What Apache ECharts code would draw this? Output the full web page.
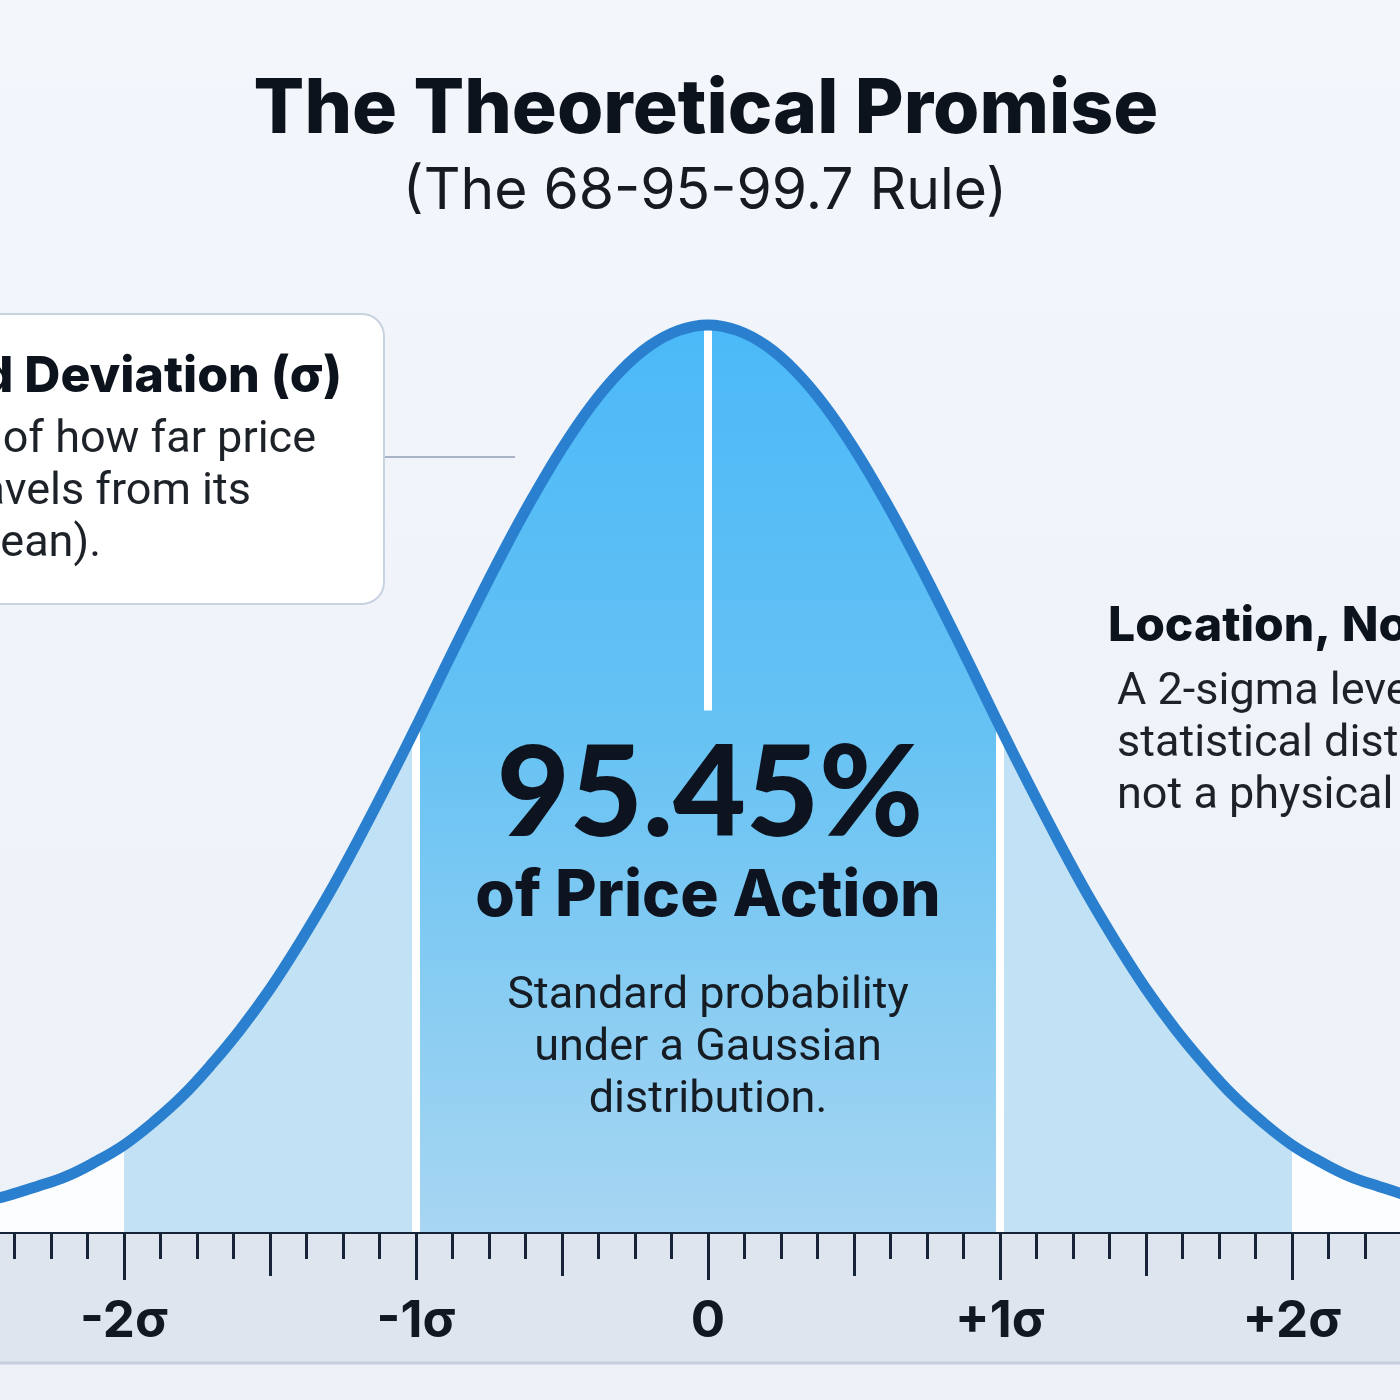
<!DOCTYPE html>
<html>
<head>
<meta charset="utf-8">
<title>The Theoretical Promise</title>
<script src="https://cdn.jsdelivr.net/npm/echarts@6/dist/echarts.min.js"></script>
<style>
  html, body { margin: 0; padding: 0; background: #eef3fa; }
  #chart { width: 1400px; height: 1400px; }
</style>
</head>
<body>
<div id="chart"></div>
<script>
// positions along the axis, in sigma units
var xs = [-2.5, -2.4, -2.3, -2.2, -2.1, -2.0, -1.9, -1.8, -1.7, -1.6, -1.5, -1.4, -1.3, -1.2, -1.1, -1.0,
  -0.9, -0.8, -0.7, -0.6, -0.5, -0.4, -0.3, -0.2, -0.1, 0.0, 0.1, 0.2, 0.3, 0.4, 0.5, 0.6, 0.7, 0.8, 0.9,
  1.0, 1.1, 1.2, 1.3, 1.4, 1.5, 1.6, 1.7, 1.8, 1.9, 2.0, 2.1, 2.2, 2.3, 2.4, 2.5];
// curve height (peak = 1)
var ys = [0.032, 0.040, 0.050, 0.061, 0.077, 0.096, 0.121, 0.150, 0.185, 0.224, 0.268, 0.318, 0.372, 0.431, 0.493, 0.557,
  0.623, 0.688, 0.751, 0.810, 0.864, 0.911, 0.949, 0.977, 0.994, 1.000, 0.994, 0.977, 0.949, 0.911, 0.864, 0.810, 0.751, 0.688, 0.623,
  0.557, 0.493, 0.431, 0.372, 0.318, 0.268, 0.224, 0.185, 0.150, 0.121, 0.096, 0.077, 0.061, 0.050, 0.040, 0.032];

var tickValues = [-2, -1, 0, 1, 2];
var tickLabels = ['-2σ', '-1σ', '0', '+1σ', '+2σ'];
var halfTicks = [-1.5, -0.5, 0.5, 1.5];

var axisMin = -2.425, axisMax = 2.37;  // visible part of the axis
var outerBand = [-2, 2];   // 95.45% region
var innerBand = [-1, 1];   // 68% region
var centerLineFrom = 0.575; // white centre marker starts here

// small ticks every 1/8 sigma
var eighthTicks = [];
for (var k = -19; k <= 19; k++) eighthTicks.push(k / 8);

function pairs(lo, hi) {
    var out = [];
    for (var i = 0; i < xs.length; i++) {
        if (xs[i] >= lo - 1e-9 && xs[i] <= hi + 1e-9) out.push([xs[i], ys[i]]);
    }
    return out;
}
function heightAt(x) {
    return ys[xs.indexOf(x)];
}

var fullCurve = pairs(-9, 9);
var tickColor = '#172336';

function tickAxis(values, len, showLine) {
    return {
        type: 'value', position: 'bottom',
        min: axisMin, max: axisMax,
        axisLine: { show: showLine, lineStyle: { color: tickColor, width: 4 } },
        axisTick: { show: true, customValues: values, length: len, lineStyle: { color: tickColor, width: 3 } },
        axisLabel: { show: false },
        splitLine: { show: false }
    };
}

var chart = echarts.init(document.getElementById('chart'));

var labelAxis = tickAxis(tickValues, 48, true);
labelAxis.axisLabel = {
    show: true,
    customValues: tickValues,
    margin: 64,
    fontFamily: 'Inter', fontWeight: 700, fontSize: 51, color: '#121821',
    formatter: function (v) {
        var i = tickValues.indexOf(v);
        return i >= 0 ? tickLabels[i] : '';
    }
};

var bodyFont = '400 45px Roboto';

var option = {
    backgroundColor: {
        type: 'linear', x: 0, y: 0, x2: 0, y2: 1,
        colorStops: [{ offset: 0, color: '#f3f6fb' }, { offset: 1, color: '#ecf1f8' }]
    },
    animation: false,
    grid: { left: 0, right: 0, top: 325, bottom: 168 },
    xAxis: [labelAxis, tickAxis(halfTicks, 44, false), tickAxis(eighthTicks, 27, false)],
    yAxis: { type: 'value', min: 0, max: 1, show: false },
    graphic: [
        // band under the axis
        { type: 'rect', z: -1, shape: { x: 0, y: 1234, width: 1400, height: 128 }, style: { fill: '#dee5ef' } },
        { type: 'line', z: -1, shape: { x1: 0, y1: 1363, x2: 1400, y2: 1363 }, style: { stroke: '#c4cedc', lineWidth: 3 } },
        // titles
        { type: 'text', x: 706, y: 110, style: { text: 'The Theoretical Promise', fill: '#0d131d',
            font: '800 75px Inter', textAlign: 'center', textVerticalAlign: 'middle' } },
        { type: 'text', x: 705, y: 192, style: { text: '(The 68-95-99.7 Rule)', fill: '#161b22',
            font: '400 57px Inter', textAlign: 'center', textVerticalAlign: 'middle' } },
        // centre annotation
        { type: 'text', x: 710, y: 795, z: 20, style: { text: '95.45%', fill: '#0d1420',
            font: '900 126px Lato', textAlign: 'center', textVerticalAlign: 'middle' } },
        { type: 'text', x: 708, y: 897, z: 20, style: { text: 'of Price Action', fill: '#0d1420',
            font: '800 64px Inter', textAlign: 'center', textVerticalAlign: 'middle' } },
        { type: 'text', x: 708, y: 997, z: 20, style: { text: 'Standard probability', fill: '#161c24',
            font: bodyFont, textAlign: 'center', textVerticalAlign: 'middle' } },
        { type: 'text', x: 708, y: 1049, z: 20, style: { text: 'under a Gaussian', fill: '#161c24',
            font: bodyFont, textAlign: 'center', textVerticalAlign: 'middle' } },
        { type: 'text', x: 708, y: 1101, z: 20, style: { text: 'distribution.', fill: '#161c24',
            font: bodyFont, textAlign: 'center', textVerticalAlign: 'middle' } },
        // left callout box
        { type: 'line', shape: { x1: 384, y1: 457, x2: 515, y2: 457 }, style: { stroke: '#a9b5c6', lineWidth: 2 } },
        { type: 'rect', shape: { x: -40, y: 314, width: 424, height: 290, r: 22 },
            style: { fill: '#ffffff', stroke: '#c8d3e1', lineWidth: 2 } },
        { type: 'text', x: 342, y: 377, style: { text: 'Standard Deviation (σ)', fill: '#0d131d',
            font: '800 50px Inter', textAlign: 'right', textVerticalAlign: 'middle' } },
        { type: 'text', x: 316, y: 441, style: { text: 'A measure of how far price', fill: '#1d2229',
            font: bodyFont, textAlign: 'right', textVerticalAlign: 'middle' } },
        { type: 'text', x: 251, y: 493, style: { text: 'typically travels from its', fill: '#1d2229',
            font: bodyFont, textAlign: 'right', textVerticalAlign: 'middle' } },
        { type: 'text', x: 101, y: 545, style: { text: 'average (mean).', fill: '#1d2229',
            font: bodyFont, textAlign: 'right', textVerticalAlign: 'middle' } },
        // right note
        { type: 'text', x: 1108, y: 627, style: { text: 'Location, Not a Line', fill: '#0d131d',
            font: '800 48px Inter', textAlign: 'left', textVerticalAlign: 'middle' } },
        { type: 'text', x: 1117, y: 693, style: { text: 'A 2-sigma level is a', fill: '#1d2229',
            font: bodyFont, textAlign: 'left', textVerticalAlign: 'middle' } },
        { type: 'text', x: 1117, y: 745, style: { text: 'statistical distance,', fill: '#1d2229',
            font: bodyFont, textAlign: 'left', textVerticalAlign: 'middle' } },
        { type: 'text', x: 1117, y: 797, style: { text: 'not a physical wall.', fill: '#1d2229',
            font: bodyFont, textAlign: 'left', textVerticalAlign: 'middle' } }
    ],
    series: [{
        // tails, white under the curve
        type: 'line', data: fullCurve, smooth: 0.4, symbol: 'none', clip: false, z: 1,
        lineStyle: { width: 0 },
        areaStyle: { color: '#fbfdff', opacity: 1 }
    }, {
        // -2σ .. +2σ
        type: 'line', data: pairs(outerBand[0], outerBand[1]), smooth: 0.4, symbol: 'none', clip: false, z: 2,
        lineStyle: { width: 0 },
        areaStyle: {
            opacity: 1,
            color: {
                type: 'linear', x: 0, y: 0, x2: 0, y2: 1,
                colorStops: [{ offset: 0, color: '#bfe2f8' }, { offset: 1, color: '#c2e1f4' }]
            }
        }
    }, {
        // -1σ .. +1σ
        type: 'line', data: pairs(innerBand[0], innerBand[1]), smooth: 0.4, symbol: 'none', clip: false, z: 3,
        lineStyle: { width: 0 },
        areaStyle: {
            opacity: 1,
            color: {
                type: 'linear', x: 0, y: 0, x2: 0, y2: 1,
                colorStops: [{ offset: 0, color: '#4bb9f8' }, { offset: 0.45, color: '#66c2f3' },
                    { offset: 1, color: '#a7d6f2' }]
            }
        },
        markLine: {
            silent: true,
            symbol: 'none',
            label: { show: false },
            lineStyle: { color: '#ffffff', width: 8, type: 'solid' },
            data: [
                [{ coord: [innerBand[0], 0] }, { coord: [innerBand[0], heightAt(innerBand[0])] }],
                [{ coord: [innerBand[1], 0] }, { coord: [innerBand[1], heightAt(innerBand[1])] }],
                [{ coord: [0, centerLineFrom] }, { coord: [0, heightAt(0)] }]
            ]
        }
    }, {
        // the bell curve itself
        type: 'line', data: fullCurve, smooth: 0.4, symbol: 'none', clip: false, z: 5,
        lineStyle: { color: '#2a80cf', width: 11 }
    }]
};

chart.setOption(option);
</script>
</body>
</html>
